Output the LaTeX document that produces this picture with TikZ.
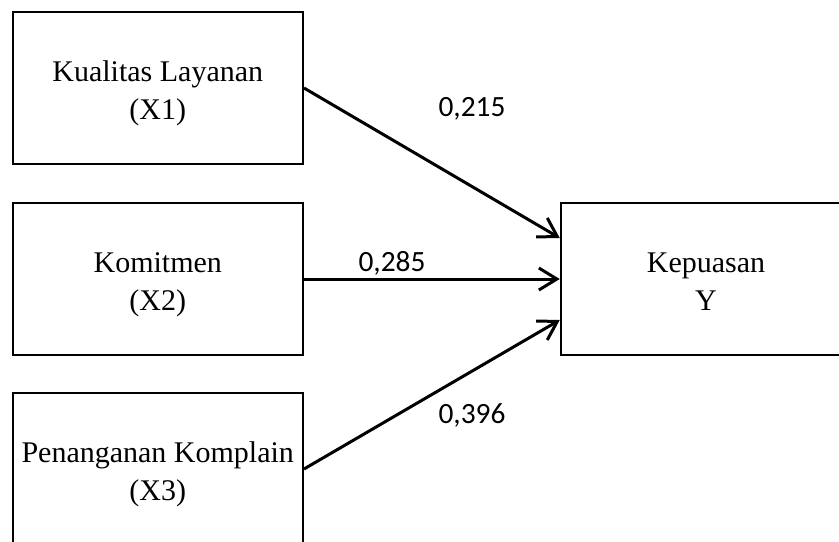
\documentclass[tikz,border=0pt]{standalone}
\usepackage{fontspec}
\setmainfont{Liberation Serif}
\newfontfamily\coeffont{Carlito}
\usetikzlibrary{arrows.meta, calc}
\tikzset{box/.style = {draw, line width = 1pt, minimum width = 145.25pt, minimum height = 76pt, align = center, inner sep = 1pt, font = \fontsize{15}{19}\selectfont, text height = 34pt, text depth = 3pt}}
\tikzset{path/.style = {line width = 1.5pt, -{Straight Barb[length = 9pt, width = 11pt, line width = 1.5pt]}}}
\tikzset{coef/.style = {inner sep = 0, font = \coeffont\fontsize{14.7}{17}\selectfont}}

\begin{document}
\begin{tikzpicture}[x = 0.5pt, y = -0.5pt]
    \clip (0, 0) rectangle (839, 541);

    \node [box] (x1) at (157.75, 88) {Kualitas Layanan\\(X1)};
    \node [box] (x2) at (157.75, 279) {Komitmen\\(X2)};
    \node [box] (x3) at (157.75, 469) {Penanganan Komplain\\(X3)};
    \node [box] (y) at (706, 279) {Kepuasan\\Y};

    \draw [path] (x1.east) -- ($(y.west) + (0, -41)$);
    \draw [path] (x2.east) -- (y.west);
    \draw [path] (x3.east) -- ($(y.west) + (0, 41)$);

    \node [coef] (c1) at (472, 109) {0,215};
    \node [coef] (c2) at (392, 263) {0,285};
    \node [coef] (c3) at (472, 415) {0,396};
  \end{tikzpicture}
\end{document}
